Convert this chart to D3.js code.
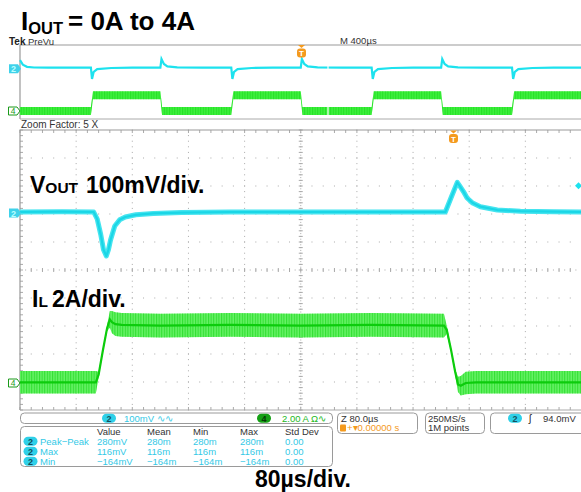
<!DOCTYPE html>
<html>
<head>
<meta charset="utf-8">
<script src="https://cdn.jsdelivr.net/npm/d3@7"></script>
<style>
  body { margin: 0; background: #fff; }
  svg { display: block; font-family: "Liberation Sans", Arial, sans-serif; }
</style>
</head>
<body>
<svg id="canvas" width="581" height="492"></svg>
<script>
// zoom window, time in µs
const zoomTime = [0, 60, 105, 110, 115, 119, 123, 126, 129, 135, 142, 150, 165, 190, 230, 300, 400, 500, 606, 614, 623, 626, 632, 637, 645, 656, 680, 713, 760, 800];
const voutMv = [0, 1, 0, -25, -80, -135, -157, -135, -100, -50, -28, -18, -10, -5, -2, 0, 0, 0, 0, 50, 106, 95, 72, 50, 32, 19, 7, 3, 1, 0];

const ilTime = [0, 108, 112, 118, 124, 128, 131, 136, 145, 200, 300, 400, 500, 604, 608, 614, 620, 624, 628, 635, 650, 800];
const ilAmp = [0.05, 0.05, 0.6, 2.3, 3.9, 4.55, 4.35, 4.2, 4.15, 4.1, 4.15, 4.1, 4.15, 4.1, 3.8, 2.4, 0.8, -0.1, -0.2, 0.0, 0.05, 0.05];
const ilRipple = [0.8, 0.8, 0.2, 0.15, 0.2, 0.6, 0.8, 0.85, 0.85, 0.85, 0.85, 0.85, 0.85, 0.85, 0.3, 0.15, 0.2, 0.55, 0.7, 0.8, 0.8, 0.8];

// overview, time in ms
const ovVoutTime = [0, 0.02, 0.05, 0.1, 0.2, 0.505, 0.513, 0.525, 0.55, 0.65, 0.8, 1.0, 1.008, 1.025, 1.05, 1.12, 1.3,
  1.505, 1.513, 1.525, 1.55, 1.65, 1.8, 2.0, 2.008, 2.025, 2.05, 2.12, 2.3,
  2.505, 2.513, 2.525, 2.55, 2.65, 2.8, 3.0, 3.008, 3.025, 3.05, 3.12, 3.3,
  3.505, 3.513, 3.525, 3.55, 3.65, 3.8, 4.0];
const ovVoutMv = [100, 40, 12, 3, 0, 0, -150, -55, -18, -4, 0, 0, 115, 50, 18, 4, 0,
  0, -150, -55, -18, -4, 0, 0, 115, 50, 18, 4, 0,
  0, -150, -55, -18, -4, 0, 0, 115, 50, 18, 4, 0,
  0, -150, -55, -18, -4, 0, 0];
const ovIlTime = [0, 0.505, 0.52, 1.0, 1.012, 1.505, 1.52, 2.0, 2.012, 2.505, 2.52, 3.0, 3.012, 3.505, 3.52, 4.0];
const ovIlAmp = [0, 0, 4.1, 4.1, 0, 0, 4.1, 4.1, 0, 0, 4.1, 4.1, 0, 0, 4.1, 4.1];

const measureCols = ["Value", "Mean", "Min", "Max", "Std Dev"];
const measureRows = [
  ["Peak\u2212Peak", "280mV", "280m", "280m", "280m", "0.00"],
  ["Max", "116mV", "116m", "116m", "116m", "0.00"],
  ["Min", "\u2212164mV", "\u2212164m", "\u2212164m", "\u2212164m", "0.00"]
];

const CYAN = "#1de2ee";
const CYAN_TXT = "#33c9e6";
const ORANGE = "#f49a1e";

const svg = d3.select("#canvas");

const zx = d3.scaleLinear().domain([0, 800]).range([20, 581.5]);
const gx = d3.scaleLinear().domain([0, 10]).range([20, 581.5]);
const gy = d3.scaleLinear().domain([0, 10]).range([130, 410]);
const vy = d3.scaleLinear().domain([0, 100]).range([212, 184]);
const iy = d3.scaleLinear().domain([0, 2]).range([383, 355]);

const ox = d3.scaleLinear().domain([0, 4]).range([20, 581.5]);
const ovy = d3.scaleLinear().domain([0, 100]).range([67.7, 60.2]);
const oiy = d3.scaleLinear().domain([0, 4]).range([111, 95.6]);

const defs = svg.append("defs");
defs.append("pattern").attr("id", "ripple")
  .attr("width", 2.6).attr("height", 10).attr("patternUnits", "userSpaceOnUse")
  .append("rect").attr("width", 1.1).attr("height", 10).attr("fill", "#08cf08");

// ---------- overview panel ----------
const ov = svg.append("g");
ov.append("path").attr("d", "M20,119 V45 H581").attr("fill", "none").attr("stroke", "#999").attr("stroke-width", 1.2);
ov.append("line").attr("x1", 20).attr("x2", 581).attr("y1", 119).attr("y2", 119).attr("stroke", "#aaa");

const ovIl = ovIlTime.map((t, i) => ({ t, a: ovIlAmp[i] }));
const ovArea = d3.area().x(d => ox(d.t)).y0(d => oiy(d.a) + 4).y1(d => oiy(d.a) - 4);
ov.append("path").datum(ovIl).attr("d", ovArea).attr("fill", "#3ef03e");
ov.append("path").datum(ovIl).attr("d", ovArea).attr("fill", "url(#ripple)").attr("opacity", 0.45);

const ovV = ovVoutTime.map((t, i) => ({ t, v: ovVoutMv[i] }));
ov.append("path").datum(ovV)
  .attr("d", d3.line().x(d => ox(d.t)).y(d => ovy(d.v)))
  .attr("fill", "none").attr("stroke", CYAN).attr("stroke-width", 2.2);

ov.append("line").attr("x1", 328).attr("x2", 328).attr("y1", 46).attr("y2", 118)
  .attr("stroke", "#fff").attr("stroke-width", 1.2);

svg.append("text").attr("x", 9).attr("y", 44.5).attr("font-size", 10).attr("font-weight", "bold").attr("fill", "#222").text("Tek");
svg.append("text").attr("x", 28).attr("y", 44.5).attr("font-size", 9.5).attr("fill", "#333").text("PreVu");
svg.append("text").attr("x", 340).attr("y", 43.5).attr("font-size", 9.5).attr("fill", "#333").text("M 400\u00b5s");
svg.append("text").attr("x", 21).attr("y", 128).attr("font-size", 10).attr("fill", "#333").text("Zoom Factor: 5 X");

// ---------- zoom grid ----------
const grid = svg.append("g").attr("fill", "#aaa");
const minorX = d3.range(0, 50.01, 1).map(k => k / 5);
const minorY = d3.range(0, 50.01, 1).map(k => k / 5);
for (let i = 1; i < 10; i++) {
  if (i === 5) continue;
  minorY.forEach(k => grid.append("rect").attr("x", gx(i) - 0.5).attr("y", gy(k) - 0.5).attr("width", 1).attr("height", 1));
  minorX.forEach(k => grid.append("rect").attr("x", gx(k) - 0.5).attr("y", gy(i) - 0.5).attr("width", 1).attr("height", 1));
}
minorY.forEach(k => grid.append("rect").attr("x", gx(5) - 2).attr("y", gy(k) - 0.5).attr("width", 4).attr("height", 1));
minorX.forEach(k => grid.append("rect").attr("x", gx(k) - 0.5).attr("y", gy(5) - 2).attr("width", 1).attr("height", 4));
d3.range(0, 100.01, 1).map(k => k / 10).forEach(k => {
  grid.append("rect").attr("x", gx(k) - 0.5).attr("y", gy(5) - 0.5).attr("width", 1).attr("height", 1);
  grid.append("rect").attr("x", gx(5) - 0.5).attr("y", gy(k) - 0.5).attr("width", 1).attr("height", 1);
});
minorX.forEach(k => {
  grid.append("rect").attr("x", gx(k) - 0.5).attr("y", gy(0)).attr("width", 1).attr("height", 3);
  grid.append("rect").attr("x", gx(k) - 0.5).attr("y", gy(10) - 3).attr("width", 1).attr("height", 3);
});
minorY.forEach(k => grid.append("rect").attr("x", gx(0)).attr("y", gy(k) - 0.5).attr("width", 3).attr("height", 1));
svg.append("path").attr("d", `M${gx(0)},${gy(10)} V${gy(0)} H581`).attr("fill", "none").attr("stroke", "#999").attr("stroke-width", 1.2);
svg.append("line").attr("x1", gx(0)).attr("x2", 581).attr("y1", gy(10)).attr("y2", gy(10)).attr("stroke", "#aaa");

// ---------- zoom traces ----------
const ilData = ilTime.map((t, i) => ({ t, a: ilAmp[i], r: ilRipple[i] }));
const ilArea = d3.area().x(d => zx(d.t)).y0(d => iy(d.a - d.r)).y1(d => iy(d.a + d.r));
svg.append("path").datum(ilData).attr("d", ilArea).attr("fill", "#66f266");
svg.append("path").datum(ilData).attr("d", ilArea).attr("fill", "url(#ripple)").attr("opacity", 0.55);
svg.append("path").datum(ilData)
  .attr("d", d3.line().x(d => zx(d.t)).y(d => iy(d.a)))
  .attr("fill", "none").attr("stroke", "#0ccc0c").attr("stroke-width", 2.2);

const vData = zoomTime.map((t, i) => ({ t, v: voutMv[i] }));
const vLine = d3.line().x(d => zx(d.t)).y(d => vy(d.v));
svg.append("path").datum(vData).attr("d", vLine)
  .attr("fill", "none").attr("stroke", "#45e4ef").attr("stroke-width", 5).attr("stroke-linejoin", "round");
svg.append("path").datum(vData).attr("d", vLine)
  .attr("fill", "none").attr("stroke", "#1ad6e6").attr("stroke-width", 2.2).attr("stroke-linejoin", "round");

// ---------- channel markers ----------
function ch2Marker(y) {
  const g = svg.append("g").attr("transform", `translate(9,${y})`);
  g.append("path").attr("d", "M0,-4.5 H9 L12,0 L9,4.5 H0 Z").attr("fill", "#3fd2ea");
  g.append("text").attr("x", 4.5).attr("y", 3.5).attr("text-anchor", "middle").attr("font-size", 9).attr("font-weight", "bold").attr("fill", "#bff").text("2");
}
function ch4Marker(y) {
  const g = svg.append("g").attr("transform", `translate(8,${y})`);
  g.append("path").attr("d", "M0.5,-4 H9 L12,0 L9,4 H0.5 Z").attr("fill", "#fff").attr("stroke", "#1a9a1a");
  g.append("text").attr("x", 5).attr("y", 3.3).attr("text-anchor", "middle").attr("font-size", 8.5).attr("fill", "#1a9a1a").text("4");
}
ch2Marker(ovy(0) + 1);
ch4Marker(oiy(0));
ch2Marker(vy(0) + 1);
ch4Marker(iy(0));

function trigMarker(x, y) {
  const g = svg.append("g").attr("transform", `translate(${x},${y})`);
  g.append("path").attr("d", "M-3.5,0 H3.5 L0,3 Z").attr("fill", ORANGE);
  g.append("rect").attr("x", -4.5).attr("y", 3.5).attr("width", 9).attr("height", 9).attr("rx", 3).attr("fill", ORANGE);
  g.append("text").attr("x", 0).attr("y", 11).attr("text-anchor", "middle").attr("font-size", 8).attr("font-weight", "bold").attr("fill", "#fff").text("T");
}
trigMarker(301.5, 45);
trigMarker(453.5, 130.5);
svg.append("path").attr("d", `M575,${vy(94)} L578.5,${vy(94) - 3.5} L582,${vy(94)} L578.5,${vy(94) + 3.5} Z`).attr("fill", CYAN);

// ---------- big labels ----------
const title = svg.append("text").attr("x", 21).attr("y", 29.5).attr("font-size", 26).attr("font-weight", "bold").attr("fill", "#000");
title.append("tspan").text("I");
title.append("tspan").attr("font-size", 16.5).attr("dy", 4).text("OUT");
title.append("tspan").attr("x", 68).attr("dy", -4).text("= 0A to 4A");

const vLab = svg.append("text").attr("x", 30).attr("y", 193).attr("font-size", 23).attr("font-weight", "bold").attr("fill", "#000");
vLab.append("tspan").text("V");
vLab.append("tspan").attr("font-size", 15.5).text("OUT");
vLab.append("tspan").attr("x", 86).text("100mV/div.");

const iLab = svg.append("text").attr("x", 32).attr("y", 307).attr("font-size", 23).attr("font-weight", "bold").attr("fill", "#000");
iLab.append("tspan").text("I");
iLab.append("tspan").attr("font-size", 15.5).text("L");
iLab.append("tspan").attr("x", 52).text("2A/div.");

svg.append("text").attr("x", 255).attr("y", 487).attr("font-size", 23).attr("font-weight", "bold").attr("fill", "#000").text("80\u00b5s/div.");

// ---------- readout boxes ----------
function box(x, y, w, h) {
  svg.append("rect").attr("x", x).attr("y", y).attr("width", w).attr("height", h).attr("rx", 4)
    .attr("fill", "#fff").attr("stroke", "#9a9a9a").attr("stroke-width", 1);
}
function pill(x, y, label, fill, color) {
  svg.append("rect").attr("x", x).attr("y", y - 4.5).attr("width", 14).attr("height", 9).attr("rx", 4.5).attr("fill", fill);
  svg.append("text").attr("x", x + 7).attr("y", y + 3.3).attr("text-anchor", "middle")
    .attr("font-size", 9).attr("font-weight", "bold").attr("fill", color).text(label);
}
function label(x, y, txt, color, size) {
  svg.append("text").attr("x", x).attr("y", y).attr("font-size", size || 9.5).attr("fill", color).text(txt);
}

box(20.5, 413, 312, 10.5);
pill(102, 418.3, "2", "#2fd0e8", "#14505e");
label(124, 421.5, "100mV \u223f\u223f", CYAN_TXT);
pill(257, 418.3, "4", "#14a014", "#063806");
label(282, 421.5, "2.00 A \u03a9\u223f", "#22b822");

box(20.5, 426.5, 312, 40);
const colX = [97, 147, 193, 240, 285];
measureCols.forEach((c, i) => label(colX[i], 434.5, c, "#333"));
measureRows.forEach((row, r) => {
  const y = 444.5 + r * 10;
  pill(23.5, y - 3.2, "2", "#2fd0e8", "#14505e");
  label(40, y, row[0], CYAN_TXT);
  row.slice(1).forEach((v, i) => label(colX[i], y, v, CYAN_TXT));
});

box(337.5, 413, 80, 20.5);
label(341, 421.5, "Z 80.0\u00b5s", "#333");
svg.append("rect").attr("x", 340).attr("y", 424.5).attr("width", 6).attr("height", 7).attr("rx", 1).attr("fill", ORANGE);
label(347, 431, "+\u25be0.00000 s", ORANGE);

box(425.5, 413, 59, 20.5);
label(428, 421.5, "250MS/s", "#333");
label(428, 431, "1M points", "#333");

box(490.5, 413, 95, 20.5);
pill(508, 418.3, "2", "#2fd0e8", "#14505e");
label(529, 421.5, "\u0283", "#222", 10);
label(543, 421.5, "94.0mV", "#333");
</script>
</body>
</html>
